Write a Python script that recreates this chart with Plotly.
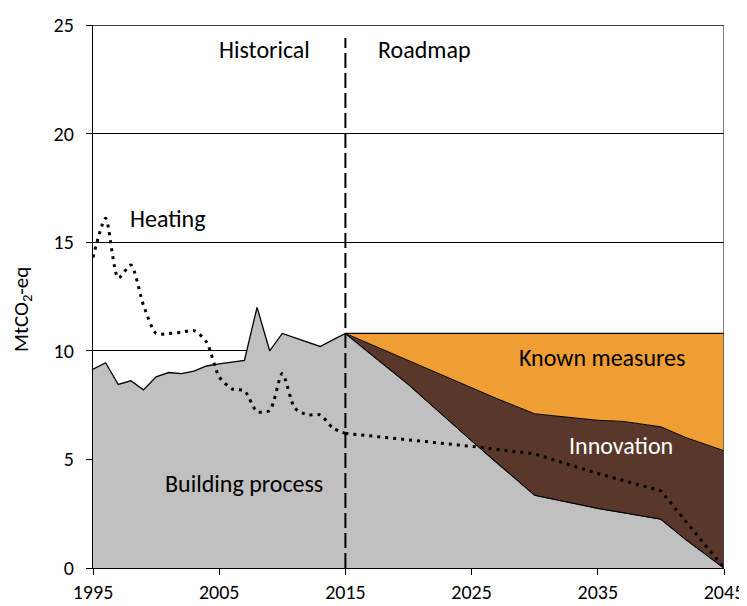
import plotly.graph_objects as go

# ---- data ----
hist_years = [1995, 1996, 1997, 1998, 1999, 2000, 2001, 2002, 2003, 2004, 2005,
              2006, 2007, 2008, 2009, 2010, 2011, 2012, 2013, 2014, 2015]
building_hist = [9.15, 9.45, 8.45, 8.62, 8.2, 8.8, 9.0, 8.95, 9.06, 9.3, 9.4,
                 9.47, 9.56, 12.0, 10.0, 10.8, 10.6, 10.4, 10.2, 10.5, 10.8]
heating_hist = [14.3, 16.1, 13.35, 13.95, 12.1, 10.8, 10.8, 10.85, 10.93, 10.4, 8.8,
                8.25, 8.16, 7.2, 7.25, 8.95, 7.35, 7.05, 7.05, 6.45, 6.2]

road_years = [2015, 2020, 2025, 2027, 2030, 2035, 2037, 2040, 2042, 2045]
building_road = [10.8, 8.45, 5.85, 4.85, 3.35, 2.75, 2.55, 2.25, 1.3, 0.0]
innovation_top = [10.8, 9.55, 8.3, 7.8, 7.1, 6.8, 6.75, 6.5, 6.0, 5.4]
known_top = [10.8, 10.8, 10.8, 10.8, 10.8, 10.8, 10.8, 10.8, 10.8, 10.8]

heating_road_years = [2015, 2020, 2025, 2030, 2035, 2040, 2045]
heating_road = [6.2, 5.9, 5.6, 5.25, 4.35, 3.55, 0.0]

x_ticks = [1995, 2005, 2015, 2025, 2035, 2045]
y_ticks = [0, 5, 10, 15, 20, 25]

GREY = "#C0C0C0"
BROWN = "#59372A"
ORANGE = "#EE9E33"
FONT = "Carlito, Lato, sans-serif"
FS = 24
TFS = 20

# page body has an 8px margin -> size figure to fit window
W, H = 739, 598
ML, MR, MT, MB = 85, 23, 17, 38

fig = go.Figure()

fig.add_trace(go.Scatter(x=hist_years + road_years[1:], y=building_hist + building_road[1:],
                         mode="lines", fill="tozeroy", fillcolor=GREY,
                         line=dict(color="black", width=1.3), hoverinfo="skip"))
fig.add_trace(go.Scatter(x=road_years, y=building_road, mode="lines",
                         line=dict(color="black", width=1), hoverinfo="skip"))
fig.add_trace(go.Scatter(x=road_years, y=innovation_top, mode="lines", fill="tonexty",
                         fillcolor=BROWN, line=dict(color="black", width=1), hoverinfo="skip"))
fig.add_trace(go.Scatter(x=road_years, y=known_top, mode="lines", fill="tonexty",
                         fillcolor=ORANGE, line=dict(color="black", width=1.3), hoverinfo="skip"))

fig.add_trace(go.Scatter(x=hist_years, y=heating_hist, mode="lines",
                         line=dict(color="black", width=3, dash="3px,5px", shape="spline", smoothing=0.7),
                         hoverinfo="skip"))
fig.add_trace(go.Scatter(x=heating_road_years, y=heating_road, mode="lines",
                         line=dict(color="black", width=3, dash="3px,5px"),
                         hoverinfo="skip"))

fig.add_shape(type="line", x0=2015, x1=2015, y0=0, y1=24.4, xref="x", yref="y",
              line=dict(color="black", width=2, dash="15px,5px"), layer="above")
fig.add_shape(type="line", x0=1995, x1=2045, y0=25, y1=25, xref="x", yref="y",
              line=dict(color="black", width=1.3), layer="above")
fig.add_shape(type="line", x0=2045, x1=2045, y0=0, y1=25, xref="x", yref="y",
              line=dict(color="#444444", width=1.3), layer="above")

def ann(text, x, y, color="black"):
    fig.add_annotation(x=x, y=y, text=text, showarrow=False, xref="x", yref="y",
                       font=dict(family=FONT, size=FS, color=color))

ann("Historical", 2008.6, 23.85)
ann("Roadmap", 2021.3, 23.85)
ann("Heating", 2000.9, 16.1)
ann("Known measures", 2035.3, 9.67)
ann("Innovation", 2036.8, 5.62, "white")
ann("Building process", 2007.0, 3.9)

plot_w = W - ML - MR
plot_h = H - MT - MB
# y-axis title centred at window pixel (22, 310)
fig.add_annotation(x=(22 - 8 - ML) / plot_w, y=(H - MB + 8 - 310) / plot_h,
                   xref="paper", yref="paper", xanchor="center", yanchor="middle",
                   text="MtCO<sub>2</sub>-eq",
                   showarrow=False, textangle=-90, font=dict(family=FONT, size=21, color="black"))

fig.update_layout(
    width=W, height=H,
    margin=dict(l=ML, r=MR, t=MT, b=MB),
    paper_bgcolor="white", plot_bgcolor="white",
    showlegend=False,
    font=dict(family=FONT, size=TFS, color="black"),
)
fig.update_xaxes(range=[1995, 2045], tickvals=x_ticks, ticktext=[str(t) for t in x_ticks],
                 showgrid=False, zeroline=False, showline=True, linecolor="black", linewidth=1.3,
                 ticks="outside", ticklen=6, tickcolor="black", tickwidth=1.3,
                 tickfont=dict(family=FONT, size=TFS), automargin=False)
fig.update_yaxes(range=[0, 25], tickvals=y_ticks, showgrid=True, gridcolor="black", gridwidth=1,
                 zeroline=False, showline=True, linecolor="black", linewidth=1.3,
                 ticks="outside", ticklen=6, tickcolor="black", tickwidth=1.3,
                 ticklabelstandoff=8,
                 tickfont=dict(family=FONT, size=TFS), automargin=False)

fig.write_html("out.html")
